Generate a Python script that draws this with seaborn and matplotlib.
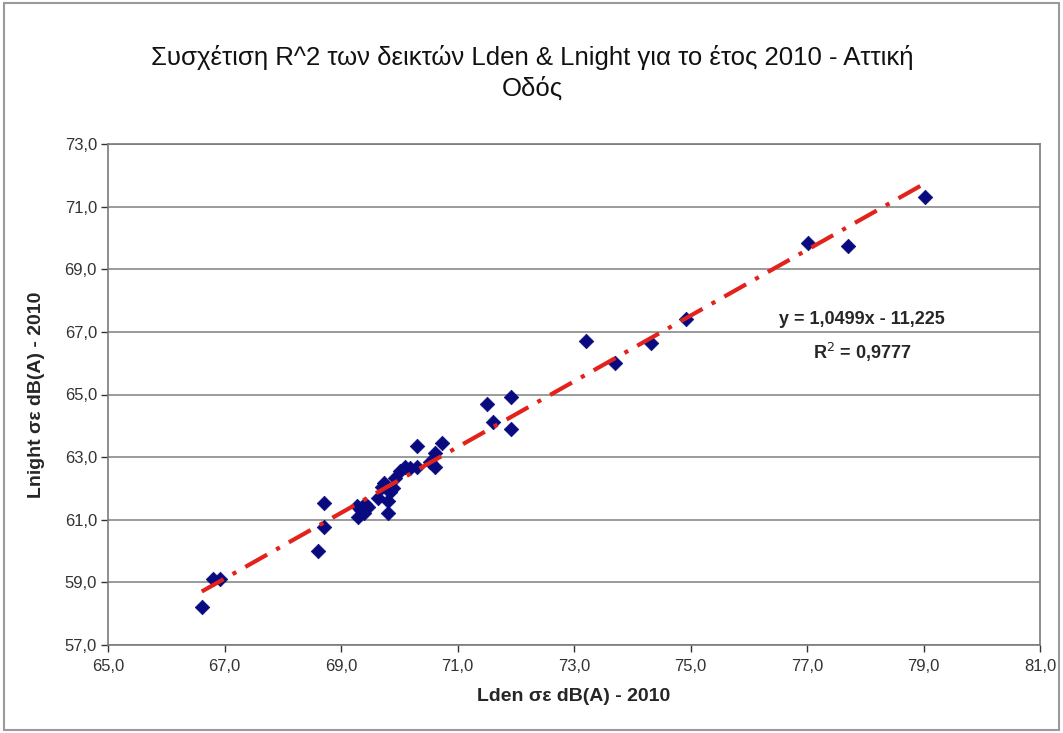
import numpy as np
import pandas as pd
import matplotlib
matplotlib.use("Agg")
import matplotlib.pyplot as plt
import seaborn as sns

# Lden / Lnight values (dB(A), 2010)
lden = [66.61, 66.80, 66.92, 68.61, 68.71, 68.71,
        69.27, 69.30, 69.35, 69.40, 69.42, 69.47, 69.64, 69.70, 69.73,
        69.80, 69.81, 69.84, 69.90, 69.93, 70.01, 70.10, 70.18, 70.30,
        70.31, 70.53, 70.61, 70.61, 70.73,
        71.51, 71.61, 71.91, 71.91, 73.21, 73.71, 74.32, 74.93,
        77.02, 77.71, 79.03]
lnight = [58.22, 59.11, 59.11, 60.01, 61.53, 60.78,
          61.45, 61.10, 61.30, 61.20, 61.50, 61.40, 61.69, 62.05, 62.17,
          61.60, 61.20, 61.90, 62.00, 62.33, 62.55, 62.70, 62.65, 62.70,
          63.34, 62.86, 63.12, 62.70, 63.44,
          64.70, 64.11, 64.91, 63.91, 66.70, 66.00, 66.63, 67.42,
          69.83, 69.73, 71.32]

# trendline as given on the chart
slope = 1.0499
intercept = -11.225
r2 = 0.9777

df = pd.DataFrame({"Lden": lden, "Lnight": lnight})

sns.set_style("white")
plt.rcParams["font.family"] = ["Liberation Sans", "DejaVu Sans"]

fig = plt.figure(figsize=(10.63, 7.33), dpi=100)
ax = fig.add_axes([108 / 1063, 1 - 645 / 733, (1040 - 108) / 1063, (645 - 144) / 733])

# outer chart border
fig.patches.append(plt.Rectangle((0.004, 0.004), 0.992, 0.992, transform=fig.transFigure,
                                 fill=False, edgecolor="#9a9a9a", linewidth=1.5))

sns.scatterplot(data=df, x="Lden", y="Lnight", marker="D", s=55,
                color="#0a0a80", edgecolor="#0a0a80", linewidth=0.5, ax=ax, zorder=3)

# linear trendline
xs = np.array([min(lden), max(lden)])
ax.plot(xs, slope * xs + intercept, color="#e3221c", linewidth=3,
        linestyle=(0, (6, 2.5, 1, 2.5)), zorder=4)

ax.set_xlim(65, 81)
ax.set_ylim(57, 73)
ax.set_xticks(np.arange(65, 82, 2))
ax.set_yticks(np.arange(57, 74, 2))
ax.set_xticklabels([f"{v:.1f}".replace(".", ",") for v in np.arange(65, 82, 2)])
ax.set_yticklabels([f"{v:.1f}".replace(".", ",") for v in np.arange(57, 74, 2)])
ax.tick_params(axis="both", labelsize=12, colors="#333333", length=5, direction="out",
               bottom=True, left=True, width=1)
ax.tick_params(axis="x", pad=5)
ax.tick_params(axis="y", pad=3)

ax.grid(axis="y", color="#8a8a8a", linewidth=1.2)
ax.set_axisbelow(True)
for s in ax.spines.values():
    s.set_color("#7a7a7a")
    s.set_linewidth(1.2)

ax.set_xlabel("Lden σε dB(A) - 2010", fontsize=14, fontweight="bold", labelpad=10)
ax.set_ylabel("Lnight σε dB(A) - 2010", fontsize=14, fontweight="bold", labelpad=14)

fig.text(532 / 1063, 1 - 73 / 733,
         "Συσχέτιση R^2 των δεικτών Lden & Lnight για το έτος 2010 - Αττική\nΟδός",
         ha="center", va="center", fontsize=18.5, linespacing=1.3, color="#111111")

fig.text(862 / 1063, 1 - 320 / 733,
         f"y = {slope:.4f}x - {abs(intercept):.3f}".replace(".", ","),
         ha="center", va="center", fontsize=13, fontweight="bold")
fig.text(862 / 1063, 1 - 352 / 733,
         f"R$^2$ = {r2:.4f}".replace(".", ","),
         ha="center", va="center", fontsize=13, fontweight="bold")

fig.savefig("out.png", dpi=100)
